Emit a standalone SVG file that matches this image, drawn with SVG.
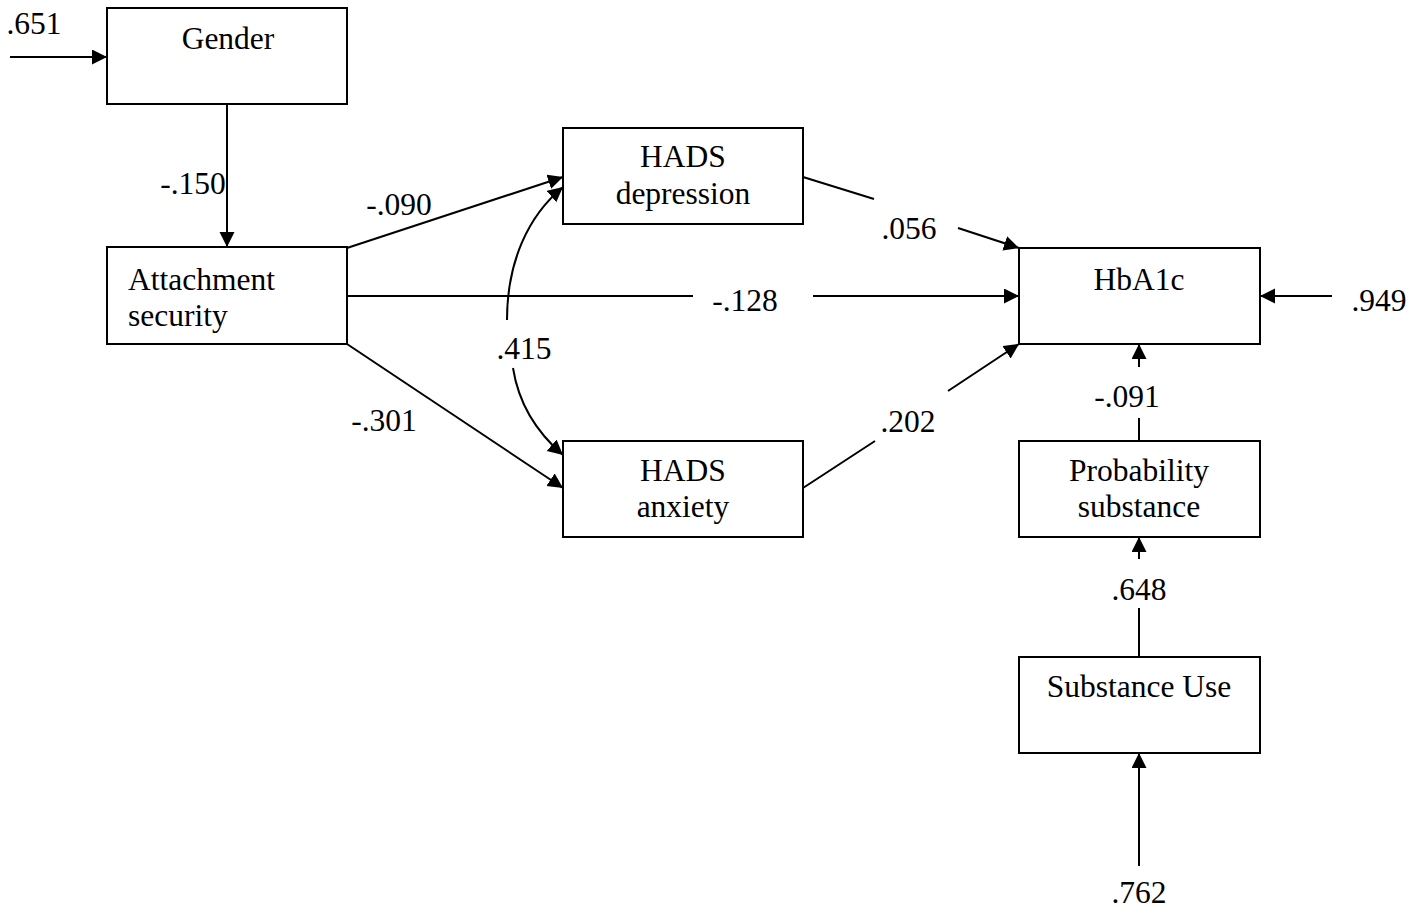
<svg xmlns="http://www.w3.org/2000/svg" width="1425" height="908" viewBox="0 0 1425 908">
<style>
.box{fill:#fff;stroke:#000;stroke-width:2}
.ln{fill:none;stroke:#000;stroke-width:2}
text{font-family:"Liberation Serif","Times New Roman",serif;font-size:31.5px;fill:#000}
.c{text-anchor:middle}
</style>
<defs>
<marker id="ah" markerUnits="userSpaceOnUse" markerWidth="17" markerHeight="16" refX="15" refY="7.5" orient="auto">
<path d="M0,0 L15,7.5 L0,15 Z" fill="#000"/>
</marker>
</defs>
<rect width="1425" height="908" fill="#fff"/>
<g id="connectors">
<line class="ln" x1="10" y1="57" x2="107" y2="57" marker-end="url(#ah)"/>
<line class="ln" x1="227" y1="104" x2="227" y2="247" marker-end="url(#ah)"/>
<line class="ln" x1="347" y1="248" x2="563" y2="177" marker-end="url(#ah)"/>
<line class="ln" x1="347" y1="296" x2="693" y2="296"/>
<line class="ln" x1="813" y1="296" x2="1019" y2="296" marker-end="url(#ah)"/>
<line class="ln" x1="347" y1="344" x2="563" y2="488" marker-end="url(#ah)"/>
<path class="ln" d="M507,320 C507,262 528,216 563,187" marker-end="url(#ah)"/>
<path class="ln" d="M513,368 C518,400 534,430 563,455" marker-end="url(#ah)"/>
<line class="ln" x1="803" y1="177" x2="874" y2="199"/>
<line class="ln" x1="958" y1="228" x2="1019" y2="248" marker-end="url(#ah)"/>
<line class="ln" x1="803" y1="488" x2="875" y2="441"/>
<line class="ln" x1="948" y1="391" x2="1019" y2="344" marker-end="url(#ah)"/>
<line class="ln" x1="1332" y1="296" x2="1260" y2="296" marker-end="url(#ah)"/>
<line class="ln" x1="1139" y1="441" x2="1139" y2="418"/>
<line class="ln" x1="1139" y1="367" x2="1139" y2="344" marker-end="url(#ah)"/>
<line class="ln" x1="1139" y1="657" x2="1139" y2="608"/>
<line class="ln" x1="1139" y1="559" x2="1139" y2="537" marker-end="url(#ah)"/>
<line class="ln" x1="1139" y1="866" x2="1139" y2="753" marker-end="url(#ah)"/>
<text x="34" y="34" class="c">.651</text>
<text x="193" y="194" class="c">-.150</text>
<text x="399" y="215" class="c">-.090</text>
<text x="524" y="359" class="c">.415</text>
<text x="384" y="431" class="c">-.301</text>
<text x="745" y="311" class="c">-.128</text>
<text x="909" y="239" class="c">.056</text>
<text x="908" y="432" class="c">.202</text>
<text x="1379" y="311" class="c">.949</text>
<text x="1127" y="407" class="c">-.091</text>
<text x="1139" y="600" class="c">.648</text>
<text x="1139" y="903" class="c">.762</text>
</g>
<g id="gender">
<rect class="box" x="107" y="8" width="240" height="96"/>
<text x="228" y="49" class="c">Gender</text>
</g>
<g id="attachment">
<rect class="box" x="107" y="247" width="240" height="97"/>
<text x="128" y="290">Attachment</text>
<text x="128" y="326">security</text>
</g>
<g id="hads-depression">
<rect class="box" x="563" y="128" width="240" height="96"/>
<text x="683" y="167" class="c">HADS</text>
<text x="683" y="204" class="c">depression</text>
</g>
<g id="hads-anxiety">
<rect class="box" x="563" y="441" width="240" height="96"/>
<text x="683" y="481" class="c">HADS</text>
<text x="683" y="517" class="c">anxiety</text>
</g>
<g id="hba1c">
<rect class="box" x="1019" y="248" width="241" height="96"/>
<text x="1139" y="290" class="c">HbA1c</text>
</g>
<g id="probability">
<rect class="box" x="1019" y="441" width="241" height="96"/>
<text x="1139" y="481" class="c">Probability</text>
<text x="1139" y="517" class="c">substance</text>
</g>
<g id="substance-use">
<rect class="box" x="1019" y="657" width="241" height="96"/>
<text x="1139" y="697" class="c">Substance Use</text>
</g>
</svg>
